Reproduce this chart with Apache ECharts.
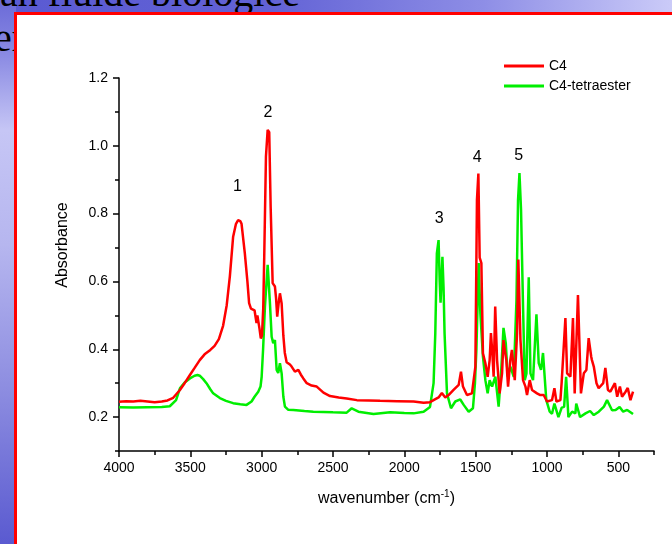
<!DOCTYPE html>
<html>
<head>
<meta charset="utf-8">
<script src="https://cdn.jsdelivr.net/npm/echarts@6/dist/echarts.min.js"></script>
<style>
  html, body { margin: 0; padding: 0; width: 672px; height: 544px; overflow: hidden; }
  #bg { position: absolute; left: 0; top: 0; width: 672px; height: 544px;
        background: linear-gradient(to right, #5a5ad2 0%, #6262d5 40%, #8e8ee6 72%, #cbcbf8 100%); }
  #strip { position: absolute; left: 0; top: 0; width: 16px; height: 544px;
        background: linear-gradient(to bottom, #6a6ad8 0%, #8a8ae3 10%, #c6c6f5 24%, #b6b6ef 45%, #8c8ce0 72%, #5a5ad0 100%); }
  .slide { position: absolute; font-family: "Liberation Serif", "DejaVu Serif", serif; font-size: 40px;
           line-height: 46px; color: #000; white-space: nowrap; }
  #t1 { left: 0px; top: -30px; }
  #t2 { left: -6px; top: 15px; }
  #box { position: absolute; left: 14px; top: 12px; width: 720px; height: 600px; box-sizing: border-box;
         border: 3px solid #ff0000; background: #ffffff; }
  #chart { position: absolute; left: 0; top: 0; width: 672px; height: 544px; }
</style>
</head>
<body>
<div id="bg"></div>
<div id="strip"></div>
<div class="slide" id="t1">an fluide biologice</div>
<div class="slide" id="t2">er</div>
<div id="box"></div>
<div id="chart"></div>
<script>
// ---- data (wavenumber in cm-1, absorbance) ----
var seriesNames = ['C4', 'C4-tetraester'];

var c4Wave = [4000,3950,3900,3850,3800,3750,3700,3660,3620,3573,3540,3503,3470,3434,3400,3360,3330,3300,3270,3245,3223,3200,3180,3165,3150,3141,3118,3100,3088,3075,3064,3050,3036,3030,3024,3015,3006,2998,2989,2982,2970,2958,2947,2937,2923,2915,2907,2899,2891,2880,2872,2860,2848,2838,2825,2802,2790,2767,2743,2725,2708,2684,2650,2614,2567,2521,2460,2404,2333,2250,2170,2050,1935,1865,1820,1795,1760,1737,1713,1690,1655,1619,1603,1589,1561,1526,1502,1491,1481,1472,1468,1460,1449,1432,1416,1402,1393,1383,1374,1363,1350,1332,1315,1305,1299,1285,1273,1257,1246,1240,1226,1210,1201,1186,1168,1151,1140,1121,1105,1070,1047,1023,1000,965,948,934,920,906,897,887,871,859,848,836,818,806,783,762,742,724,708,690,685,672,653,638,630,606,591,573,556,543,524,514,508,489,474,449,434,415,397];
var c4Abs  = [0.245,0.247,0.246,0.248,0.246,0.244,0.246,0.249,0.257,0.280,0.300,0.324,0.345,0.368,0.385,0.398,0.410,0.430,0.470,0.530,0.615,0.732,0.770,0.781,0.778,0.770,0.683,0.600,0.536,0.520,0.516,0.515,0.477,0.500,0.496,0.460,0.432,0.440,0.520,0.673,0.968,1.047,1.040,0.820,0.595,0.590,0.585,0.550,0.496,0.540,0.565,0.535,0.440,0.390,0.362,0.355,0.349,0.334,0.339,0.325,0.314,0.300,0.293,0.290,0.272,0.262,0.258,0.255,0.250,0.249,0.248,0.247,0.246,0.242,0.244,0.250,0.258,0.271,0.258,0.265,0.280,0.295,0.334,0.290,0.265,0.270,0.349,0.840,0.918,0.670,0.669,0.654,0.388,0.359,0.319,0.368,0.448,0.388,0.319,0.526,0.368,0.270,0.329,0.427,0.408,0.368,0.290,0.368,0.398,0.398,0.309,0.447,0.665,0.427,0.309,0.290,0.265,0.309,0.280,0.270,0.265,0.265,0.246,0.250,0.285,0.246,0.250,0.250,0.304,0.300,0.492,0.329,0.324,0.319,0.492,0.270,0.560,0.270,0.329,0.339,0.433,0.378,0.368,0.349,0.300,0.285,0.280,0.300,0.345,0.280,0.275,0.270,0.300,0.304,0.260,0.290,0.260,0.275,0.286,0.250,0.275];

var tetraWave = [4000,3900,3800,3700,3644,3600,3573,3540,3503,3470,3450,3434,3410,3387,3360,3340,3293,3250,3200,3150,3106,3071,3050,3024,3008,3000,2990,2977,2958,2942,2930,2919,2907,2895,2884,2872,2860,2848,2837,2815,2778,2700,2638,2500,2404,2369,2340,2322,2216,2099,2000,1935,1865,1820,1795,1783,1772,1760,1752,1746,1733,1725,1718,1701,1673,1643,1608,1584,1549,1519,1505,1495,1479,1467,1449,1432,1416,1402,1385,1362,1339,1322,1305,1289,1275,1257,1233,1214,1203,1193,1182,1168,1156,1144,1128,1116,1098,1074,1058,1042,1028,1005,981,965,948,920,897,880,866,850,824,801,795,768,754,730,698,672,637,601,579,544,519,491,466,438,397];
var tetraAbs  = [0.229,0.228,0.229,0.230,0.232,0.250,0.285,0.302,0.314,0.322,0.324,0.322,0.312,0.300,0.282,0.270,0.256,0.248,0.241,0.238,0.236,0.246,0.260,0.275,0.290,0.319,0.400,0.526,0.649,0.536,0.437,0.418,0.427,0.339,0.330,0.359,0.329,0.260,0.231,0.222,0.221,0.218,0.216,0.214,0.213,0.226,0.220,0.216,0.209,0.214,0.212,0.211,0.216,0.230,0.300,0.447,0.683,0.722,0.600,0.537,0.673,0.580,0.447,0.270,0.226,0.246,0.252,0.236,0.216,0.226,0.300,0.398,0.654,0.506,0.378,0.309,0.270,0.309,0.290,0.319,0.231,0.329,0.463,0.418,0.319,0.349,0.319,0.545,0.840,0.920,0.811,0.526,0.309,0.329,0.612,0.329,0.309,0.503,0.359,0.339,0.389,0.250,0.216,0.210,0.240,0.200,0.228,0.230,0.319,0.200,0.216,0.211,0.240,0.200,0.199,0.211,0.218,0.206,0.216,0.231,0.250,0.220,0.221,0.230,0.216,0.221,0.209];

// peak annotations: wavenumber, absorbance position of label, text
var peakWave = [3170, 2956, 1756, 1490, 1198];
var peakAbs  = [0.879, 1.098, 0.786, 0.966, 0.970];
var peakText = ['1', '2', '3', '4', '5'];

var xMajorTicks = [500, 1000, 1500, 2000, 2500, 3000, 3500, 4000];
var xMinorTicks = [250, 750, 1250, 1750, 2250, 2750, 3250, 3750];
var yMajorTicks = [0.2, 0.4, 0.6, 0.8, 1.0, 1.2];
var yMinorTicks = [0.1, 0.3, 0.5, 0.7, 0.9, 1.1];

function pairs(xs, ys) { return xs.map(function (x, i) { return [x, ys[i]]; }); }

var FONT = 'Liberation Sans, Arial, sans-serif';
var chart = echarts.init(document.getElementById('chart'), null, { renderer: 'canvas' });

var axisLine = { show: true, onZero: false, lineStyle: { color: '#000', width: 1.5 } };

chart.setOption({
  backgroundColor: 'transparent',
  animation: false,
  grid: { left: 119, right: 18, top: 78, bottom: 93, containLabel: false },
  legend: {
    data: seriesNames,
    orient: 'vertical',
    left: 499, top: 54,
    itemWidth: 40, itemHeight: 3, itemGap: 6,
    icon: 'rect',
    textStyle: { fontFamily: FONT, fontSize: 14, color: '#000' }
  },
  xAxis: [{
    type: 'value', inverse: true, min: 250, max: 4000,
    position: 'bottom',
    name: 'wavenumber (cm{sup|-1})',
    nameLocation: 'middle', nameGap: 38,
    nameTextStyle: { fontFamily: FONT, fontSize: 16, color: '#000',
      rich: { sup: { fontFamily: FONT, fontSize: 10, color: '#000', verticalAlign: 'top', padding: [0, 0, 10, 0] } } },
    axisLine: axisLine,
    axisTick: { show: true, customValues: xMajorTicks, length: 6, lineStyle: { color: '#000', width: 1.5 } },
    axisLabel: { customValues: xMajorTicks, fontFamily: FONT, fontSize: 14, color: '#000', margin: 10,
                 formatter: function (v) { return String(v); } },
    splitLine: { show: false }
  }, {
    type: 'value', inverse: true, min: 250, max: 4000, position: 'bottom',
    axisLine: { show: false },
    axisTick: { show: true, customValues: xMinorTicks, length: 4, lineStyle: { color: '#000', width: 1.5 } },
    axisLabel: { show: false },
    splitLine: { show: false }
  }],
  yAxis: [{
    type: 'value', min: 0.1, max: 1.2,
    position: 'left',
    name: 'Absorbance',
    nameLocation: 'middle', nameGap: 48,
    nameTextStyle: { fontFamily: FONT, fontSize: 16, color: '#000', padding: [0, 0, 0, 39] },
    axisLine: axisLine,
    axisTick: { show: true, customValues: yMajorTicks, length: 6, lineStyle: { color: '#000', width: 1.5 } },
    axisLabel: { customValues: yMajorTicks, fontFamily: FONT, fontSize: 14, color: '#000', margin: 11,
                 formatter: function (v) { return v.toFixed(1); } },
    splitLine: { show: false }
  }, {
    type: 'value', min: 0.1, max: 1.2, position: 'left',
    axisLine: { show: false },
    axisTick: { show: true, customValues: yMinorTicks, length: 4, lineStyle: { color: '#000', width: 1.5 } },
    axisLabel: { show: false },
    splitLine: { show: false }
  }],
  series: [{
    name: seriesNames[0], type: 'line',
    data: pairs(c4Wave, c4Abs),
    showSymbol: false, symbol: 'none',
    lineStyle: { color: '#ff0000', width: 2.5 },
    itemStyle: { color: '#ff0000' },
    z: 3,
    markPoint: {
      symbol: 'circle', symbolSize: 0,
      label: { show: true, position: 'inside', fontFamily: FONT, fontSize: 16, color: '#000',
               formatter: function (p) { return p.name; } },
      data: peakWave.map(function (w, i) { return { name: peakText[i], coord: [w, peakAbs[i]] }; })
    }
  }, {
    name: seriesNames[1], type: 'line',
    data: pairs(tetraWave, tetraAbs),
    showSymbol: false, symbol: 'none',
    lineStyle: { color: '#00ee00', width: 2.5 },
    itemStyle: { color: '#00ee00' },
    z: 2
  }]
});
</script>
</body>
</html>
